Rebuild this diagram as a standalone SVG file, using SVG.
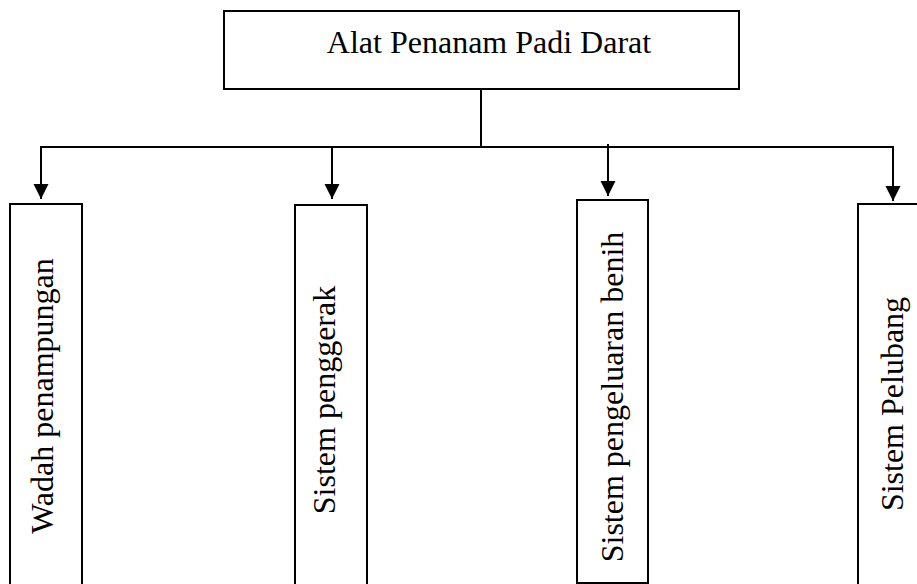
<svg xmlns="http://www.w3.org/2000/svg" width="917" height="584" viewBox="0 0 917 584">
<style>
.box{fill:#fff;stroke:#000;stroke-width:2}
.t{font-family:"Liberation Serif","Times New Roman",serif;font-size:32px;fill:#000}
.ln{stroke:#000;stroke-width:2;fill:none}
</style>
<defs>
<marker id="ah" markerWidth="8" markerHeight="8" refX="7.5" refY="4" orient="auto" markerUnits="userSpaceOnUse" viewBox="0 0 8 8">
<path d="M0,0 L8,4 L0,8 Z" fill="#000"/>
</marker>
<marker id="ah2" viewBox="0 0 16 16" markerWidth="16" markerHeight="16" refX="15" refY="8" orient="auto" markerUnits="userSpaceOnUse">
<path d="M0,0.5 L15,8 L0,15.5 Z" fill="#000"/>
</marker>
</defs>
<rect width="917" height="584" fill="#fff"/>
<g id="connectors">
<line class="ln" x1="481" y1="89" x2="481" y2="147"/>
<line class="ln" x1="40" y1="147" x2="894" y2="147"/>
<line class="ln" x1="41" y1="146" x2="41" y2="199" marker-end="url(#ah2)"/>
<line class="ln" x1="332" y1="147" x2="332" y2="199" marker-end="url(#ah2)"/>
<line class="ln" x1="608" y1="144" x2="608" y2="196" marker-end="url(#ah2)"/>
<line class="ln" x1="893" y1="146" x2="893" y2="201" marker-end="url(#ah2)"/>
</g>
<g id="root">
<rect class="box" x="224" y="11" width="515" height="78"/>
<text class="t" x="489" y="53" text-anchor="middle">Alat Penanam Padi Darat</text>
</g>
<g id="n1">
<rect class="box" x="10" y="204" width="72" height="400"/>
<text class="t" transform="translate(53,396) rotate(-90)" text-anchor="middle">Wadah penampungan</text>
</g>
<g id="n2">
<rect class="box" x="295" y="205" width="72" height="400"/>
<text class="t" transform="translate(335,400) rotate(-90)" text-anchor="middle">Sistem penggerak</text>
</g>
<g id="n3">
<rect class="box" x="577" y="200" width="71" height="383"/>
<text class="t" transform="translate(623,397) rotate(-90)" text-anchor="middle">Sistem pengeluaran benih</text>
</g>
<g id="n4">
<rect class="box" x="858" y="204" width="72" height="400"/>
<text class="t" transform="translate(903,404) rotate(-90)" text-anchor="middle">Sistem Pelubang</text>
</g>
</svg>
